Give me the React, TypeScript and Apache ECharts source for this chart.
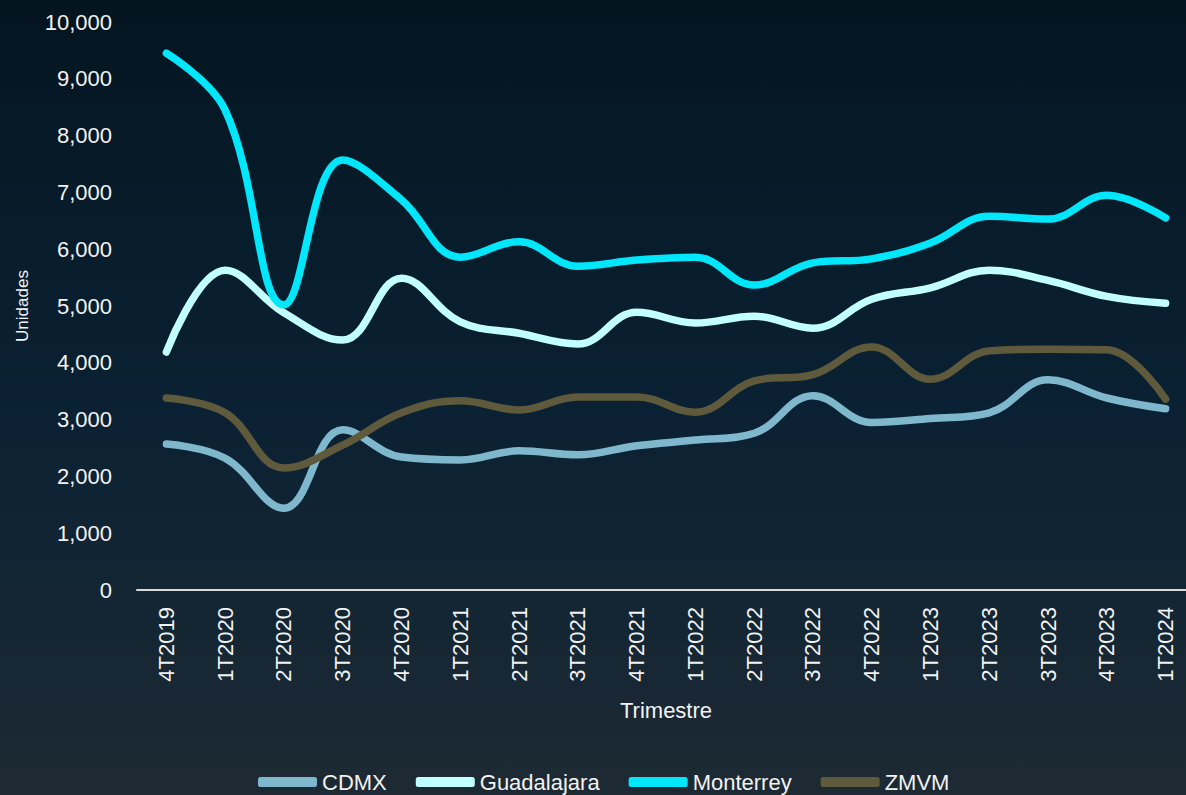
import React, { useEffect, useRef } from "react";
import * as echarts from "echarts";

const categories = [
  "4T2019", "1T2020", "2T2020", "3T2020", "4T2020", "1T2021", "2T2021", "3T2021", "4T2021",
  "1T2022", "2T2022", "3T2022", "4T2022", "1T2023", "2T2023", "3T2023", "4T2023", "1T2024",
];

const cdmx = [2570, 2320, 1440, 2820, 2340, 2290, 2450, 2380, 2540, 2640, 2760, 3420, 2950, 3020, 3120, 3700, 3380, 3190];
const guadalajara = [4190, 5630, 4880, 4400, 5490, 4720, 4520, 4330, 4890, 4700, 4820, 4610, 5120, 5320, 5630, 5450, 5170, 5050];
const monterrey = [9450, 8450, 5020, 7570, 6870, 5860, 6130, 5700, 5810, 5860, 5370, 5760, 5830, 6110, 6580, 6530, 6950, 6550];
const zmvm = [3380, 3120, 2150, 2550, 3120, 3330, 3170, 3400, 3400, 3130, 3680, 3790, 4280, 3710, 4210, 4240, 4230, 3360];

const yTicks = { min: 0, max: 10000, interval: 1000 };

const FONT = "'Liberation Sans', Arial, sans-serif";
const TEXT = "#f2f2f2";

const seriesDefs = [
  { name: "CDMX", data: cdmx, color: "#7fb8cd" },
  { name: "Guadalajara", data: guadalajara, color: "#c2ffff" },
  { name: "Monterrey", data: monterrey, color: "#00e6fa" },
  { name: "ZMVM", data: zmvm, color: "#5f5a3c" },
];

export default function App() {
  const ref = useRef<HTMLDivElement>(null);
  useEffect(() => {
    if (!ref.current) return;
    const chart = echarts.init(ref.current, null, { renderer: "svg" });
    chart.setOption({
      animation: false,
      backgroundColor: new echarts.graphic.LinearGradient(0, 0, 0, 1, [
        { offset: 0, color: "#041520" },
        { offset: 0.5, color: "#0a2133" },
        { offset: 1, color: "#1d2a33" },
      ]),
      textStyle: { fontFamily: FONT, color: TEXT },
      grid: { left: 137, top: 22, width: 1058, bottom: 205, outerBoundsMode: "none", containLabel: false },
      legend: {
        left: 258,
        top: 771,
        padding: 0,
        itemWidth: 59,
        itemHeight: 10,
        itemGap: 29,
        icon: "roundRect",
        textStyle: { color: TEXT, fontSize: 22, lineHeight: 18, fontFamily: FONT },
        data: seriesDefs.map((s) => s.name),
      },
      xAxis: {
        type: "category",
        data: categories,
        boundaryGap: true,
        name: "Trimestre",
        nameLocation: "middle",
        nameGap: 109,
        nameTextStyle: { color: TEXT, fontSize: 22, fontFamily: FONT },
        axisLine: { show: true, lineStyle: { color: "#d9d9d9", width: 2 } },
        axisTick: { show: false },
        axisLabel: { rotate: 90, margin: 17, color: TEXT, fontSize: 22, fontFamily: FONT, interval: 0 },
        splitLine: { show: false },
      },
      yAxis: {
        type: "value",
        min: yTicks.min,
        max: yTicks.max,
        interval: yTicks.interval,
        name: "Unidades",
        nameLocation: "middle",
        nameGap: 106,
        nameTextStyle: { color: TEXT, fontSize: 17, fontFamily: FONT },
        axisLine: { show: false },
        axisTick: { show: false },
        splitLine: { show: false },
        axisLabel: {
          margin: 25,
          color: TEXT,
          fontSize: 22,
          fontFamily: FONT,
          formatter: (v: number) => v.toLocaleString("en-US"),
        },
      },
      series: seriesDefs.map((s) => ({
        name: s.name,
        type: "line",
        data: s.data,
        smooth: 0.4,
        symbol: "none",
        color: s.color,
        lineStyle: { color: s.color, width: 7.5, cap: "round", join: "round" },
        itemStyle: { color: s.color },
      })),
    });
    return () => chart.dispose();
  }, []);
  return (
    <div
      ref={ref}
      style={{ position: "fixed", left: 0, top: 0, width: 1186, height: 795 }}
    />
  );
}
